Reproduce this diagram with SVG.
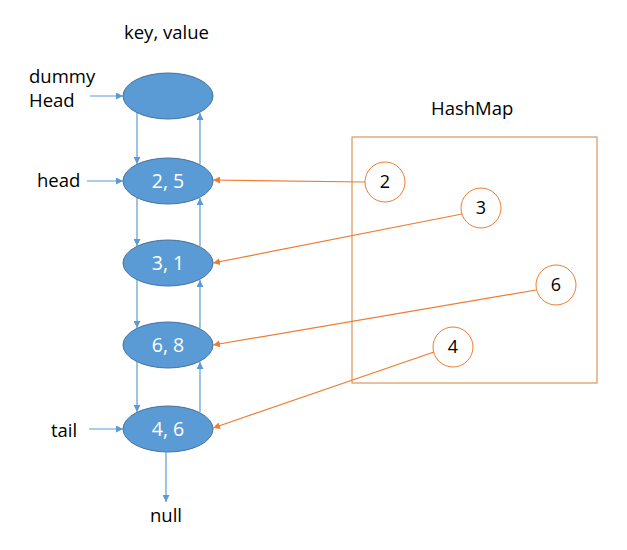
<svg xmlns="http://www.w3.org/2000/svg" width="627" height="550" viewBox="0 0 627 550">
<style>
text{font-family:"Open Sans","Liberation Sans",sans-serif;font-size:18.5px;fill:#000}
.n ellipse{fill:#5B9BD5;stroke:#41719C;stroke-width:1}
.n text{fill:#fff;font-size:19.5px;text-anchor:middle}
.k circle{fill:#fff;stroke:#ED7D31;stroke-width:1}
.k text{text-anchor:middle;font-size:18px}
.b{stroke:#5B9BD5;stroke-width:1.2;fill:none;marker-end:url(#ab)}
.o{stroke:#ED7D31;stroke-width:1.2;fill:none;marker-end:url(#ao)}
</style>
<defs>
<marker id="ab" viewBox="0 0 10 10" refX="10" refY="5" markerWidth="7" markerHeight="7" markerUnits="userSpaceOnUse" orient="auto"><path d="M0,0L10,5L0,10z" fill="#5B9BD5"/></marker>
<marker id="ao" viewBox="0 0 10 10" refX="10" refY="5" markerWidth="7" markerHeight="7" markerUnits="userSpaceOnUse" orient="auto"><path d="M0,0L10,5L0,10z" fill="#ED7D31"/></marker>
</defs>
<text x="124" y="39">key, value</text>
<text x="29" y="83">dummy</text>
<text x="29" y="107">Head</text>
<text x="37" y="187">head</text>
<text x="51" y="437">tail</text>
<text x="166" y="522" text-anchor="middle">null</text>
<text x="431" y="115">HashMap</text>
<rect id="hashmap" x="352" y="137" width="245" height="246" fill="none" stroke="#D0843F" stroke-width="1"/>
<g id="dummy" class="n"><ellipse cx="168" cy="96" rx="45" ry="23"/></g>
<g id="n25" class="n"><ellipse cx="168" cy="181" rx="45" ry="23"/><text x="168" y="188">2, 5</text></g>
<g id="n31" class="n"><ellipse cx="168" cy="263" rx="45" ry="23"/><text x="168" y="270">3, 1</text></g>
<g id="n68" class="n"><ellipse cx="168" cy="345" rx="45" ry="23"/><text x="168" y="352">6, 8</text></g>
<g id="n46" class="n"><ellipse cx="168" cy="429" rx="45" ry="23"/><text x="168" y="436">4, 6</text></g>
<g id="k2" class="k"><circle cx="385" cy="182" r="20"/><text x="385" y="188">2</text></g>
<g id="k3" class="k"><circle cx="481" cy="208" r="20"/><text x="481" y="214">3</text></g>
<g id="k6" class="k"><circle cx="556" cy="285" r="20"/><text x="556" y="291">6</text></g>
<g id="k4" class="k"><circle cx="453" cy="347" r="20"/><text x="453" y="353">4</text></g>
<g id="connectors">
<line class="b" x1="90" y1="96" x2="123" y2="96"/>
<line class="b" x1="87" y1="181" x2="123" y2="181"/>
<line class="b" x1="89" y1="429" x2="123" y2="429"/>
<line class="b" x1="137" y1="113" x2="137" y2="164"/>
<line class="b" x1="200" y1="164" x2="200" y2="113"/>
<line class="b" x1="137" y1="198" x2="137" y2="246"/>
<line class="b" x1="200" y1="246" x2="200" y2="198"/>
<line class="b" x1="137" y1="280" x2="137" y2="328"/>
<line class="b" x1="200" y1="328" x2="200" y2="280"/>
<line class="b" x1="137" y1="362" x2="137" y2="412"/>
<line class="b" x1="200" y1="412" x2="200" y2="362"/>
<line class="b" x1="166" y1="452" x2="166" y2="502"/>
<line class="o" x1="365" y1="182" x2="213" y2="180"/>
<line class="o" x1="462" y1="214" x2="213" y2="263"/>
<line class="o" x1="536" y1="290" x2="213" y2="345"/>
<line class="o" x1="434" y1="352" x2="213" y2="428"/>
</g>
</svg>
